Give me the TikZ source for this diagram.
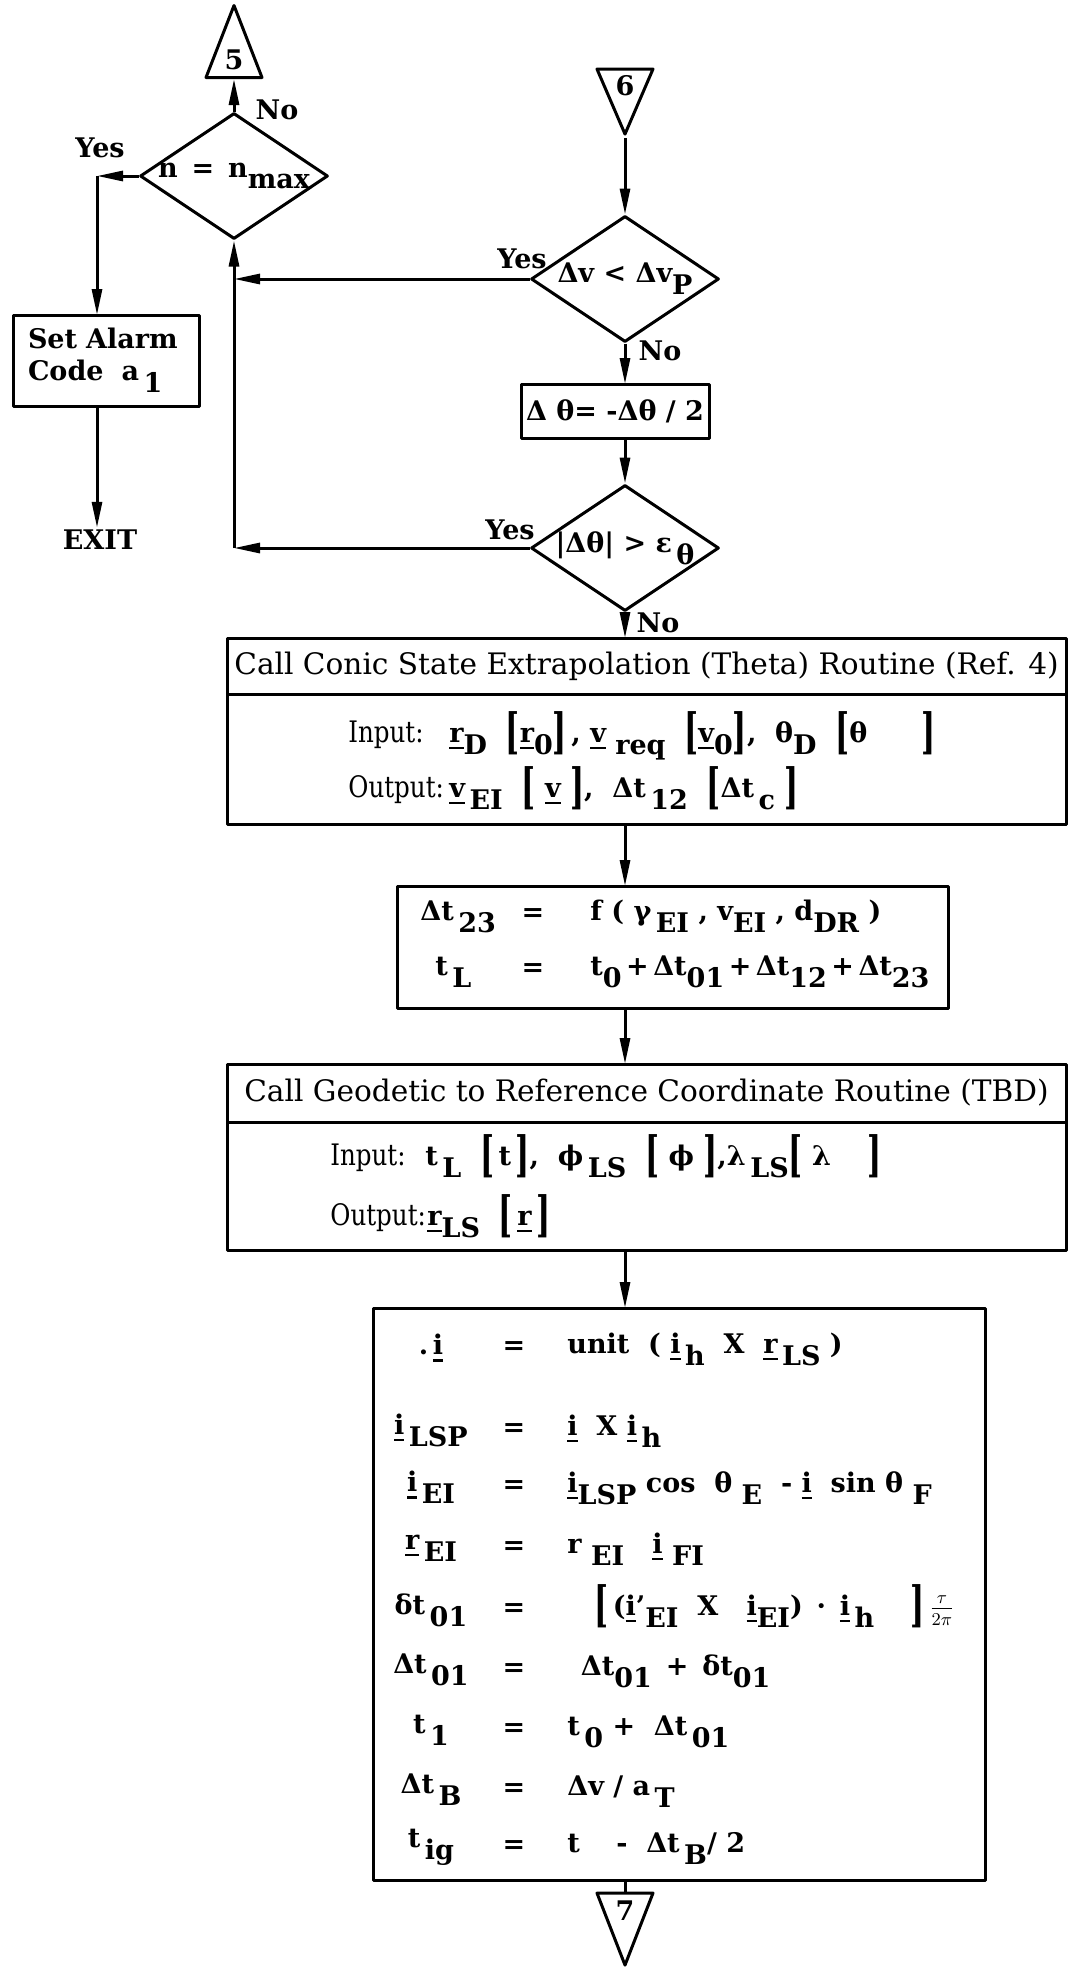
\documentclass[tikz,border=0pt]{standalone}
\usepackage{fontspec}
\setmainfont{DejaVu Serif}
\newfontfamily\condfont[FakeStretch=0.83]{DejaVu Serif}
\usepackage{graphicx}
\usetikzlibrary{shapes.geometric,arrows.meta,positioning}

\newcommand{\figfont}{\fontsize{14.8}{18}\selectfont}
\newcommand{\boldfont}{\fontsize{13.5}{16}\selectfont\bfseries}
\newsavebox{\vecbox}
\newcommand{\vb}[1]{\sbox{\vecbox}{#1}\rlap{\rule[-3.6pt]{\wd\vecbox}{1.2pt}}\usebox{\vecbox}}
\newcommand{\lo}[1]{\raisebox{-0.85ex}{#1}}
\newcommand{\lbr}{\raisebox{-0.45ex}{\scalebox{1.1}[1.8]{[}}}
\newcommand{\rbr}{\raisebox{-0.45ex}{\scalebox{1.1}[1.8]{]}}}

\tikzset{
  flow/.style={line width=1.5pt},
  arr/.style={flow, ->},
  box/.style={draw, rectangle, line width=1.5pt, inner sep=0pt, outer sep=0pt},
  decision/.style={draw, diamond, line width=1.5pt, inner sep=0pt, minimum width=94pt, minimum height=63pt},
  connector/.style={draw, isosceles triangle, isosceles triangle stretches, line width=1.5pt, inner sep=0pt, minimum width=28pt, minimum height=#1, font=\boldfont},
  answer/.style={font=\boldfont, inner sep=1pt},
  formula/.style={font=\boldfont, inner sep=0pt},
  io/.style={font=\figfont\condfont, inner sep=0pt, anchor=mid west},
}

\begin{document}
\begin{tikzpicture}[x=0.5pt, y=-0.5pt, font=\figfont, line join=round, >={Triangle[length=13pt,width=5pt]}]
\useasboundingbox (0,0) rectangle (1069,1976);
%%%%%%%%%%%%%%%%%%%%%%%%%%%%%%%%%
% left part: iteration count
\node[connector=36pt, shape border rotate=90, anchor=lower side] (c5) at (234,79) {5};
\node[decision, label={[formula]center:n \,=\, n\lo{max}}] (nmax) at (234,176) {};
\node[answer] (no1) at (277,110) {No};
\node[answer] (yes1) at (100,148) {Yes};
\coordinate (alarmtop) at (97,176);
\node[box, minimum width=93pt, minimum height=45.5pt, text width=78pt, align=left, font=\boldfont] (alarm) at (106,360.5) {Set Alarm\\Code \ a\,\lo{1}};
\node[answer] (exit) at (100,540) {EXIT};
%%%%%%%%%%%%%%%%%%%%%%%%%%%%%%%%%
% right part: step test
\node[connector=32.5pt, shape border rotate=270, anchor=apex] (c6) at (625,138) {6};
\node[decision, label={[formula]center:Δv < Δv\lo{P}}] (dvtest) at (625,279) {};
\node[answer] (yes2) at (522,259) {Yes};
\node[answer] (no2) at (660,351) {No};
\node[box, minimum width=94pt, minimum height=27pt, font=\boldfont] (halve) at (615,411) {Δ θ= -Δθ / 2};
\node[decision, label={[formula]center:|Δθ| > ε\lo{\,θ}}] (dthtest) at (625,548) {};
\node[answer] (yes3) at (510,530) {Yes};
\node[answer] (no3) at (658,623) {No};
%%%%%%%%%%%%%%%%%%%%%%%%%%%%%%%%%
% conic routine
\node[box, minimum width=419.5pt, minimum height=28pt] (conic) at (646.5,666) {Call Conic State Extrapolation (Theta) Routine (Ref. 4)};
\node[box, below=0pt of conic, minimum width=419.5pt, minimum height=65pt] (conicio) {};
\node[io] (conicin) at (348,737) {Input:};
\node[formula, anchor=mid west] (conicinv) at (449,737) {\vb{r}\lo{D} \ \lbr\vb{r}\lo{0}\rbr\,,\ \vb{v}\ \lo{req} \ \lbr\vb{v}\lo{0}\rbr,\ \ θ\lo{D} \ \lbr θ\quad\quad\rbr};
\node[io] (conicout) at (348,792) {Output:};
\node[formula, anchor=mid west] (conicoutv) at (449,792) {\vb{v}\,\lo{EI} \ \lbr\ \vb{v}\ \rbr, \ Δt\,\lo{12} \ \lbr Δt\,\lo{c}\ \rbr};
%%%%%%%%%%%%%%%%%%%%%%%%%%%%%%%%%
% launch time
\node[box, minimum width=275.5pt, minimum height=61pt] (tl) at (672.5,947) {};
\node[formula, anchor=mid west] (tl1a) at (420,915) {Δt\,\lo{23}};
\node[formula] (tl1b) at (533,915) {=};
\node[formula, anchor=mid west] (tl1c) at (590,915) {f ( γ\,\lo{EI} , v\lo{EI} , d\lo{DR} )};
\node[formula, anchor=mid west] (tl2a) at (435,970) {t\,\lo{L}};
\node[formula] (tl2b) at (533,970) {=};
\node[formula, anchor=mid west] (tl2c) at (590,970) {t\lo{0}\,+\,Δt\lo{01}\,+\,Δt\lo{12}\,+\,Δt\lo{23}};
%%%%%%%%%%%%%%%%%%%%%%%%%%%%%%%%%
% geodetic routine
\node[box, minimum width=419.5pt, minimum height=29pt] (geod) at (646.5,1093) {Call Geodetic to Reference Coordinate Routine (TBD)};
\node[box, below=0pt of geod, minimum width=419.5pt, minimum height=64pt] (geodio) {};
\node[io] (geodin) at (330,1160) {Input:};
\node[formula, anchor=mid west] (geodinv) at (425,1160) {t\,\lo{L} \ \lbr\,t\,\rbr, \ ϕ\,\lo{LS} \ \lbr\ ϕ\ \rbr,λ\,\lo{LS}\lbr\ λ \quad\rbr};
\node[io] (geodout) at (330,1220) {Output:};
\node[formula, anchor=mid west] (geodoutv) at (427,1220) {\vb{r}\lo{LS} \ \lbr\,\vb{r}\,\rbr};
%%%%%%%%%%%%%%%%%%%%%%%%%%%%%%%%%
% ignition time
\node[box, minimum width=306pt, minimum height=286pt] (ign) at (679,1594) {};
\foreach \y/\lhs/\rhs [count=\k] in {
  1348/{.\,\vb{i}}/{unit \ ( \vb{i}\,\lo{h} \ X \ \vb{r}\,\lo{LS} )},
  1430/{\vb{i}\,\lo{LSP}}/{\vb{i} \ X \vb{i}\,\lo{h}},
  1487/{\vb{i}\,\lo{EI}}/{\vb{i}\lo{LSP} cos \ θ\ \lo{E} \ - \vb{i} \ sin θ\ \lo{F}},
  1548/{\vb{r}\,\lo{EI}}/{r\ \lo{EI} \ \ \vb{i}\ \lo{FI}},
  1610/{δt\,\lo{01}}/{\quad\lbr\,(\vb{i}'\lo{EI} \ X \ \ \vb{i}\lo{EI}) \,·\, \vb{i}\lo{\,h} \quad\rbr\,$\frac{\tau}{2\pi}$},
  1670/{Δt\,\lo{01}}/{\enspace Δt\lo{01} \,+\, δt\lo{01}},
  1730/{t\,\lo{1}}/{t\,\lo{0} + \ Δt\,\lo{01}},
  1790/{Δt\,\lo{B}}/{Δv / a\,\lo{T}},
  1847/{t\,\lo{ig}}/{t \quad - \ Δt\,\lo{B}/ 2}}{
  \node[formula] (lhs\k) at (431,\y) {\lhs};
  \node[formula] (eq\k) at (514,\y) {=};
  \node[formula, anchor=mid west] (rhs\k) at (567,\y) {\rhs};
}
\node[connector=36pt, shape border rotate=270, anchor=apex] (c7) at (625,1969) {7};
%%%%%%%%%%%%%%%%%%%%%%%%%%%%%%%%%
% connectors
\draw[arr] (nmax.north) -- (c5.lower side);
\draw[arr] (nmax.west) -- (alarmtop);
\draw[arr] (alarmtop) -- (alarm.north -| alarmtop);
\draw[arr] (alarm.south -| alarmtop) -- (exit.north -| alarmtop);
\draw[arr] (c6.apex) -- (dvtest.north);
\draw[arr] (dvtest.south) -- (halve.north -| dvtest.south);
\draw[arr] (halve.south -| dthtest.north) -- (dthtest.north);
\draw[arr] (dvtest.west) -- (dvtest.west -| nmax.south);
\draw[arr] (dthtest.west) -- (dthtest.west -| nmax.south);
\draw[arr] (dthtest.west -| nmax.south) -- (nmax.south);
\draw[arr] (dthtest.south) -- (conic.north -| dthtest.south);
\draw[arr] (conicio.south -| dthtest.south) -- (tl.north -| dthtest.south);
\draw[arr] (tl.south -| dthtest.south) -- (geod.north -| dthtest.south);
\draw[arr] (geodio.south -| dthtest.south) -- (ign.north -| dthtest.south);
\draw[flow] (ign.south -| c7.lower side) -- (c7.lower side);
\end{tikzpicture}
\end{document}
